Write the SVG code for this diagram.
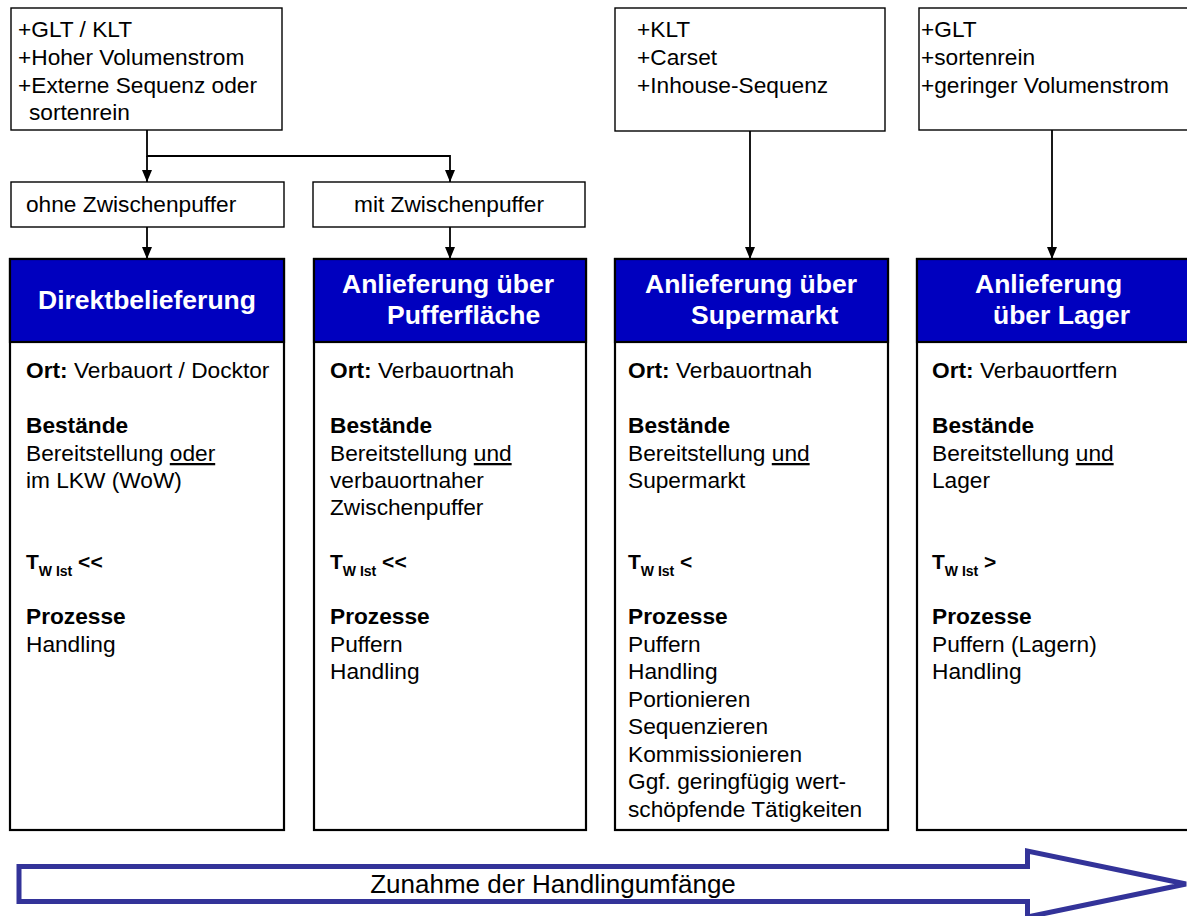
<svg xmlns="http://www.w3.org/2000/svg" width="1187" height="916" viewBox="0 0 1187 916">
  <defs>
    <marker id="arrow" viewBox="0 0 12 10" refX="12" refY="5" markerWidth="12" markerHeight="10" markerUnits="userSpaceOnUse" orient="auto">
      <path d="M0,0 L12,5 L0,10 Z" fill="#000"/>
    </marker>
    <style>
      text { font-family: "Liberation Sans", Arial, sans-serif; fill: #000; }
      .t { font-size: 22.7px; }
      .b { font-weight: bold; }
      .hd { font-size: 26.5px; font-weight: bold; fill: #fff; }
      .tw { font-size: 21px; font-weight: bold; }
      .sub { font-size: 14px; font-weight: bold; }
      .u { text-decoration: underline; }
      .box { fill: #fff; stroke: #000; stroke-width: 1.4; }
      .card { fill: #fff; stroke: #000; stroke-width: 2.2; }
      .head { fill: #0000bf; stroke: #000; stroke-width: 2.2; }
      .conn { fill: none; stroke: #000; stroke-width: 1.8; }
    </style>
  </defs>
  <rect width="1187" height="916" fill="#fff"/>

  <!-- connectors -->
  <g id="connectors">
    <path class="conn" d="M147,130 V156 H450 V182" marker-end="url(#arrow)"/>
    <path class="conn" d="M147,156 V182" marker-end="url(#arrow)"/>
    <path class="conn" d="M147,227 V259" marker-end="url(#arrow)"/>
    <path class="conn" d="M450,227 V259" marker-end="url(#arrow)"/>
    <path class="conn" d="M750,131 V259" marker-end="url(#arrow)"/>
    <path class="conn" d="M1052,130 V259" marker-end="url(#arrow)"/>
  </g>

  <!-- input criteria boxes -->
  <g id="crit-1">
    <rect class="box" x="11" y="8" width="271" height="122"/>
    <text class="t" x="18" y="37">+GLT / KLT</text>
    <text class="t" x="18" y="65">+Hoher Volumenstrom</text>
    <text class="t" x="18" y="93">+Externe Sequenz oder</text>
    <text class="t" x="29" y="120">sortenrein</text>
  </g>
  <g id="crit-3">
    <rect class="box" x="615" y="8" width="270" height="123"/>
    <text class="t" x="637" y="37">+KLT</text>
    <text class="t" x="637" y="65">+Carset</text>
    <text class="t" x="637" y="93">+Inhouse-Sequenz</text>
  </g>
  <g id="crit-4">
    <rect class="box" x="919" y="8" width="280" height="122"/>
    <text class="t" x="921" y="37">+GLT</text>
    <text class="t" x="921" y="65">+sortenrein</text>
    <text class="t" x="921" y="93">+geringer Volumenstrom</text>
  </g>

  <!-- buffer option boxes -->
  <g id="opt-ohne">
    <rect class="box" x="11" y="182" width="273" height="45"/>
    <text class="t" x="26" y="212">ohne Zwischenpuffer</text>
  </g>
  <g id="opt-mit">
    <rect class="box" x="313" y="182" width="272" height="45"/>
    <text class="t" x="449" y="212" text-anchor="middle">mit Zwischenpuffer</text>
  </g>

  <!-- supply concept cards -->
  <g id="card-direkt">
    <rect class="card" x="10" y="259" width="274" height="571"/>
    <rect class="head" x="10" y="259" width="274" height="83"/>
    <text class="hd" x="147" y="309" text-anchor="middle">Direktbelieferung</text>
    <text class="t" x="26" y="378"><tspan class="b">Ort:</tspan> Verbauort / Docktor</text>
    <text class="t b" x="26" y="433">Bestände</text>
    <text class="t" x="26" y="461">Bereitstellung <tspan class="u">oder</tspan></text>
    <text class="t" x="26" y="488">im LKW (WoW)</text>
    <text class="tw" x="26" y="569">T<tspan class="sub" dy="7">W Ist</tspan><tspan dy="-7"> &lt;&lt;</tspan></text>
    <text class="t b" x="26" y="624">Prozesse</text>
    <text class="t" x="26" y="652">Handling</text>
  </g>

  <g id="card-puffer">
    <rect class="card" x="314" y="259" width="272" height="571"/>
    <rect class="head" x="314" y="259" width="272" height="83"/>
    <text class="hd" x="342" y="293">Anlieferung über</text>
    <text class="hd" x="387" y="324">Pufferfläche</text>
    <text class="t" x="330" y="378"><tspan class="b">Ort:</tspan> Verbauortnah</text>
    <text class="t b" x="330" y="433">Bestände</text>
    <text class="t" x="330" y="461">Bereitstellung <tspan class="u">und</tspan></text>
    <text class="t" x="330" y="488">verbauortnaher</text>
    <text class="t" x="330" y="515">Zwischenpuffer</text>
    <text class="tw" x="330" y="569">T<tspan class="sub" dy="7">W Ist</tspan><tspan dy="-7"> &lt;&lt;</tspan></text>
    <text class="t b" x="330" y="624">Prozesse</text>
    <text class="t" x="330" y="652">Puffern</text>
    <text class="t" x="330" y="679">Handling</text>
  </g>

  <g id="card-supermarkt">
    <rect class="card" x="615" y="259" width="273" height="571"/>
    <rect class="head" x="615" y="259" width="273" height="83"/>
    <text class="hd" x="645" y="293">Anlieferung über</text>
    <text class="hd" x="691" y="324">Supermarkt</text>
    <text class="t" x="628" y="378"><tspan class="b">Ort:</tspan> Verbauortnah</text>
    <text class="t b" x="628" y="433">Bestände</text>
    <text class="t" x="628" y="461">Bereitstellung <tspan class="u">und</tspan></text>
    <text class="t" x="628" y="488">Supermarkt</text>
    <text class="tw" x="628" y="569">T<tspan class="sub" dy="7">W Ist</tspan><tspan dy="-7"> &lt;</tspan></text>
    <text class="t b" x="628" y="624">Prozesse</text>
    <text class="t" x="628" y="652">Puffern</text>
    <text class="t" x="628" y="679">Handling</text>
    <text class="t" x="628" y="707">Portionieren</text>
    <text class="t" x="628" y="734">Sequenzieren</text>
    <text class="t" x="628" y="762">Kommissionieren</text>
    <text class="t" x="628" y="789">Ggf. geringfügig wert-</text>
    <text class="t" x="628" y="817">schöpfende Tätigkeiten</text>
  </g>

  <g id="card-lager">
    <rect class="card" x="917" y="259" width="290" height="571"/>
    <rect class="head" x="917" y="259" width="290" height="83"/>
    <text class="hd" x="975" y="293">Anlieferung</text>
    <text class="hd" x="993" y="324">über Lager</text>
    <text class="t" x="932" y="378"><tspan class="b">Ort:</tspan> Verbauortfern</text>
    <text class="t b" x="932" y="433">Bestände</text>
    <text class="t" x="932" y="461">Bereitstellung <tspan class="u">und</tspan></text>
    <text class="t" x="932" y="488">Lager</text>
    <text class="tw" x="932" y="569">T<tspan class="sub" dy="7">W Ist</tspan><tspan dy="-7"> &gt;</tspan></text>
    <text class="t b" x="932" y="624">Prozesse</text>
    <text class="t" x="932" y="652">Puffern (Lagern)</text>
    <text class="t" x="932" y="679">Handling</text>
  </g>

  <!-- trend arrow -->
  <g id="trend">
    <polygon points="19,866.5 1027.5,866.5 1027.5,851 1186,884 1027.5,917 1027.5,901.5 19,901.5" fill="#fff" stroke="#333399" stroke-width="5" stroke-linejoin="miter"/>
    <text x="553" y="893" text-anchor="middle" font-size="26">Zunahme der Handlingumfänge</text>
  </g>
</svg>
